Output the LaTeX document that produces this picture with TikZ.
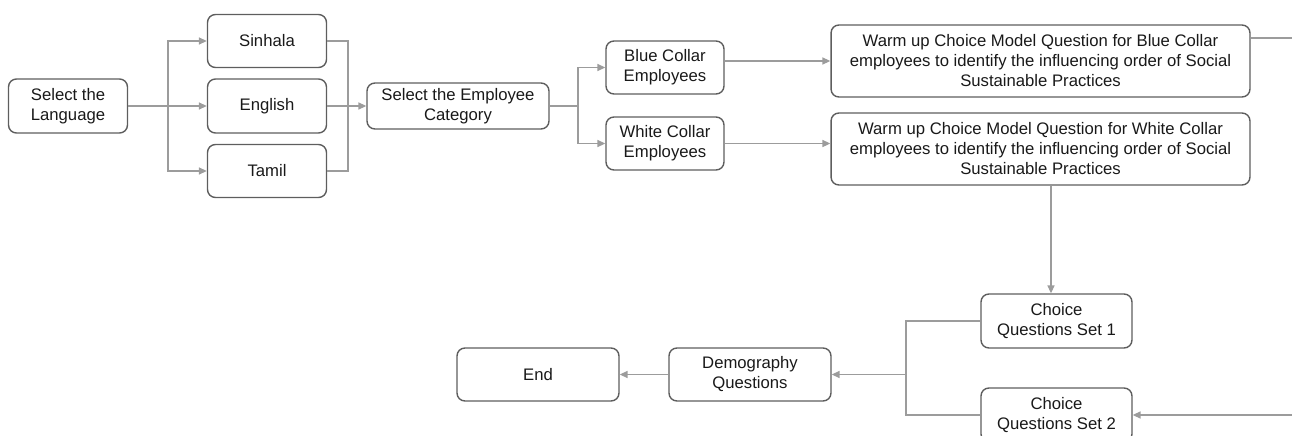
\documentclass[tikz,border=0pt]{standalone}
\usepackage{fontspec}
\setmainfont{Liberation Sans}
\usetikzlibrary{arrows.meta,positioning}
\definecolor{boxline}{HTML}{5E5E5E}
\definecolor{flowline}{HTML}{9C9C9C}
\tikzset{
  box/.style={draw=boxline,line width=0.8pt,rounded corners=4.5pt,align=center,
    inner sep=0pt,text=black!90},
  link/.style={draw=flowline,line width=0.7pt},
  flow/.style={link,-{Triangle[length=4.5pt,width=4pt]}}
}
\begin{document}
\begin{tikzpicture}[x=0.02cm,y=-0.02cm,font=\fontsize{9.5}{11.4}\selectfont]
	\useasboundingbox (0,0) rectangle (1292,436);
	% language choice
	\node[box,minimum width=2.38cm,minimum height=1.08cm] (lang) at (68,106) {Select the\\Language};
	\node[box,minimum width=2.38cm,minimum height=1.06cm] (sinhala) at (267,41) {Sinhala};
	\node[box,minimum width=2.38cm,minimum height=1.08cm] (english) at (267,106) {English};
	\node[box,minimum width=2.38cm,minimum height=1.06cm] (tamil) at (267,171) {Tamil};
	\node[box,minimum width=3.64cm,minimum height=0.92cm] (cat) at (458,106) {Select the Employee\\Category};
	% employee groups
	\node[box,minimum width=2.36cm,minimum height=1.06cm] (blue) at (665,67.5) {Blue Collar\\Employees};
	\node[box,minimum width=2.36cm,minimum height=1.06cm] (white) at (665,143.5) {White Collar\\Employees};
	\node[box,minimum width=8.38cm,minimum height=1.44cm] (warm1) at (1040.5,61)
		{Warm up Choice Model Question for Blue Collar\\employees to identify the influencing order of Social\\Sustainable Practices};
	\node[box,minimum width=8.38cm,minimum height=1.44cm] (warm2) at (1040.5,149)
		{Warm up Choice Model Question for White Collar\\employees to identify the influencing order of Social\\Sustainable Practices};
	% question sets
	\node[box,minimum width=3.02cm,minimum height=1.08cm] (choice1) at (1056.5,321) {Choice\\Questions Set 1};
	\node[box,minimum width=3.02cm,minimum height=1.08cm] (choice2) at (1056.5,415) {Choice\\Questions Set 2};
	\node[box,minimum width=3.24cm,minimum height=1.06cm] (demo) at (750,374.5) {Demography\\Questions};
	\node[box,minimum width=3.24cm,minimum height=1.06cm] (fin) at (538,374.5) {End};
	
	\coordinate (split1) at (168,106);
	\coordinate (join1) at (348,106);
	\coordinate (split2) at (578,106);
	\coordinate (join2) at (906,374.5);
	\coordinate (rim) at (1292.5,38);
	
	\draw[flow] (lang) -- (english);
	\draw[flow] (split1) |- (sinhala.west);
	\draw[flow] (split1) |- (tamil.west);
	\draw[link] (sinhala.east) -| (join1) |- (tamil.east);
	\draw[flow] (english) -- (cat);
	\draw[link] (cat.east) -- (split2);
	\draw[flow] (split2) |- (blue.west);
	\draw[flow] (split2) |- (white.west);
	\draw[flow] (warm1.west -| blue.east) -- (warm1.west);
	\draw[flow] (white.east) -- (white.east -| warm2.west);
	\draw[flow] ([xshift=0.21cm]warm2.south) coordinate (down) -- (down |- choice1.north);
	\draw[flow] (warm1.east |- rim) -- (rim) |- (choice2.east);
	\draw[link] (choice1.west) -| (join2) |- (choice2.west);
	\draw[flow] (join2) -- (demo.east);
	\draw[flow] (demo) -- (fin);
\end{tikzpicture}
\end{document}
